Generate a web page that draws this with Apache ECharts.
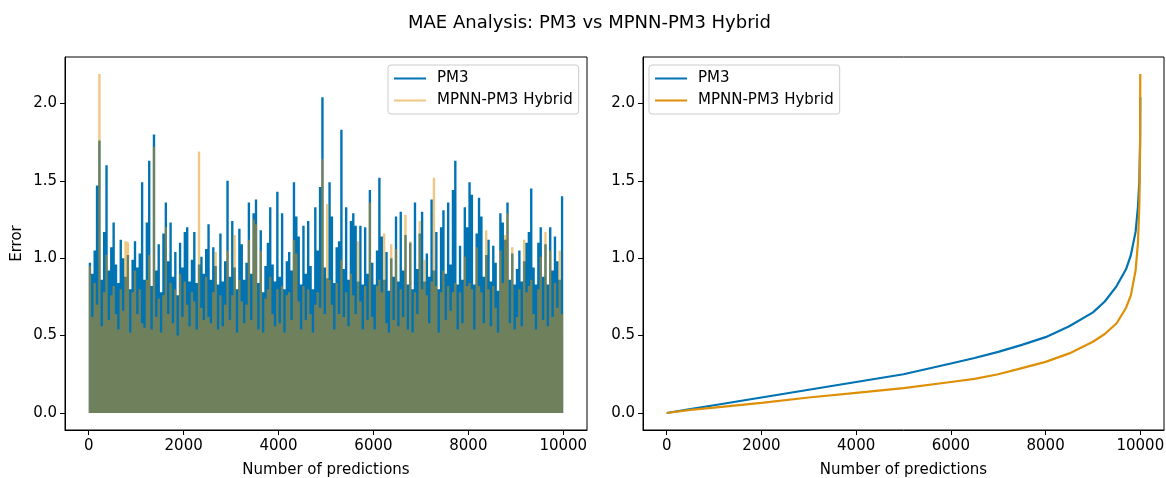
<!DOCTYPE html>
<html><head><meta charset="utf-8">
<script src="https://cdn.jsdelivr.net/npm/echarts@6/dist/echarts.min.js"></script>
<style>html,body{margin:0;padding:0;background:#fff}#c{width:1166px;height:478px}</style>
</head><body><div id="c"></div>
<script>
const TITLE = 'MAE Analysis: PM3 vs MPNN-PM3 Hybrid';
const NAME_PM3 = 'PM3';
const NAME_HYB = 'MPNN-PM3 Hybrid';
const X_LABEL = 'Number of predictions';
const Y_LABEL = 'Error';
const X_TICKS = [0, 2000, 4000, 6000, 8000, 10000];
const Y_TICKS = [0, 0.5, 1.0, 1.5, 2.0];

// Left panel: per 50-prediction bin, the highest error reached
const BIN_SIZE = 50;
const LAST_INDEX = 9999;
const PM3_BIN_PEAKS = [
  0.97, 0.90, 1.05, 1.47, 1.76, 0.86, 1.17, 1.60, 0.92, 1.07,
  1.23, 0.96, 0.84, 1.12, 1.00, 0.88, 1.02, 0.80, 0.99, 1.11,
  0.94, 1.03, 1.49, 0.86, 1.23, 1.63, 0.82, 1.80, 0.92, 1.09,
  0.78, 1.16, 1.36, 0.98, 1.23, 0.88, 1.04, 0.76, 1.10, 0.94,
  1.17, 1.20, 0.85, 0.99, 1.17, 0.84, 0.96, 1.01, 0.90, 1.06,
  1.22, 0.86, 1.07, 0.95, 0.83, 1.16, 0.85, 0.98, 1.50, 0.88,
  1.24, 0.94, 0.80, 1.19, 1.09, 0.86, 0.97, 1.36, 0.90, 1.29,
  1.38, 0.84, 1.18, 0.78, 0.95, 1.10, 1.33, 0.96, 0.85, 1.43,
  0.88, 1.29, 0.80, 0.98, 1.04, 0.92, 1.49, 1.27, 1.14, 0.83,
  1.21, 0.90, 1.24, 0.95, 0.80, 1.33, 1.05, 1.46, 2.04, 0.94,
  0.87, 1.49, 1.27, 0.84, 1.07, 1.11, 1.83, 0.93, 1.33, 0.86,
  1.24, 1.29, 1.21, 0.85, 1.21, 0.83, 1.20, 0.90, 1.44, 0.97,
  0.83, 1.05, 1.52, 1.14, 0.86, 1.04, 0.79, 1.00, 0.88, 1.27,
  0.85, 1.30, 0.92, 1.15, 0.83, 1.10, 0.80, 1.36, 0.93, 1.16,
  1.30, 0.85, 1.03, 0.88, 1.38, 0.92, 1.17, 0.80, 1.20, 1.31,
  0.90, 1.36, 0.96, 1.44, 1.63, 0.83, 1.08, 0.86, 1.33, 1.20,
  1.49, 1.41, 0.83, 1.16, 1.39, 1.27, 0.88, 1.02, 1.12, 0.85,
  1.08, 0.97, 0.79, 1.29, 1.23, 1.12, 1.36, 0.86, 1.03, 0.83,
  0.93, 1.05, 0.85, 0.98, 1.10, 1.17, 1.45, 0.94, 0.83, 1.10,
  1.20, 0.88, 1.09, 0.83, 1.20, 0.92, 1.14, 0.98, 0.86, 1.40
];
const HYB_BIN_PEAKS = [
  0.95, 0.62, 0.84, 0.70, 2.19, 0.56, 0.78, 1.02, 0.60, 0.76,
  0.82, 0.64, 0.54, 0.80, 0.66, 1.11, 1.10, 0.52, 0.78, 0.92,
  0.64, 0.80, 0.58, 0.55, 0.86, 1.02, 0.54, 1.72, 0.62, 0.74,
  0.52, 0.76, 1.20, 0.64, 0.84, 0.58, 0.80, 0.50, 0.90, 0.62,
  0.85, 0.70, 0.56, 0.78, 0.72, 0.54, 1.69, 0.68, 0.60, 0.88,
  0.62, 0.58, 0.78, 1.04, 0.54, 0.76, 0.56, 0.70, 1.05, 0.60,
  0.76, 1.15, 0.52, 0.86, 0.72, 0.58, 0.70, 1.12, 0.60, 1.25,
  1.22, 0.54, 1.05, 0.52, 0.74, 0.80, 0.88, 0.64, 0.56, 0.80,
  0.58, 0.82, 0.52, 0.76, 0.78, 0.60, 1.12, 1.03, 0.72, 0.54,
  0.82, 0.60, 0.80, 0.64, 0.52, 0.70, 0.78, 0.68, 1.64, 0.64,
  1.35, 0.86, 0.70, 0.54, 0.84, 0.64, 0.99, 0.62, 0.78, 0.56,
  0.90, 0.76, 0.64, 1.11, 0.72, 0.54, 0.82, 0.60, 1.36, 0.62,
  0.54, 0.82, 0.86, 0.78, 1.16, 0.58, 0.52, 1.09, 0.60, 1.06,
  0.56, 0.80, 0.62, 1.28, 0.54, 1.11, 0.52, 0.78, 0.64, 1.24,
  0.80, 0.99, 0.76, 0.58, 0.85, 1.52, 0.82, 0.52, 0.78, 0.92,
  0.60, 0.82, 0.66, 0.78, 0.84, 0.54, 0.78, 0.58, 1.01, 0.82,
  0.84, 0.80, 0.54, 1.07, 0.82, 0.78, 0.58, 1.18, 0.80, 0.56,
  0.82, 0.68, 0.52, 1.05, 0.84, 1.15, 1.29, 0.58, 1.07, 0.54,
  0.62, 0.80, 0.56, 1.12, 0.78, 0.82, 0.86, 0.64, 0.54, 0.80,
  1.01, 0.60, 1.17, 0.56, 1.05, 0.62, 0.84, 0.68, 1.05, 0.64
];

// Right panel: sorted errors
const SORTED_X   = [0, 500, 1000, 2000, 3000, 4000, 5000, 6000, 6500, 7000, 7500, 8000, 8500, 9000, 9250, 9500, 9700, 9800, 9900, 9950, 9980, 9995, 9999];
const PM3_SORTED = [0.0, 0.025, 0.05, 0.10, 0.15, 0.20, 0.25, 0.32, 0.355, 0.395, 0.44, 0.49, 0.56, 0.65, 0.72, 0.82, 0.93, 1.02, 1.17, 1.33, 1.50, 1.75, 2.04];
const HYB_SORTED = [0.0, 0.02, 0.035, 0.065, 0.10, 0.13, 0.16, 0.20, 0.22, 0.25, 0.29, 0.33, 0.385, 0.46, 0.51, 0.58, 0.68, 0.76, 0.92, 1.10, 1.35, 1.70, 2.19];

const C_BLUE = '#0173B2';
const C_ORANGE = '#DE8F05';
const C_ORANGE_HALF = '#EEC782';
const FONT = 'DejaVu Sans';

// each bin is filled from 0 up to its peak: step outline at bin edges
function binSteps(peaks) {
  const d = peaks.map((p, i) => [i * BIN_SIZE, p]);
  d.push([LAST_INDEX, peaks[peaks.length - 1]]);
  return d;
}
function pairs(xs, ys) { return xs.map((x, i) => [x, ys[i]]); }

function xAxis(gi) {
  return {
    type: 'value', gridIndex: gi, min: -500, max: 10500,
    name: X_LABEL, nameLocation: 'middle', nameGap: 33,
    nameTextStyle: { fontFamily: FONT, fontSize: 15, color: '#000' },
    axisLine: { show: true, onZero: false, lineStyle: { color: '#000', width: 1 } },
    axisTick: { show: true, inside: false, length: 5, lineStyle: { color: '#000', width: 1 }, customValues: X_TICKS },
    axisLabel: { customValues: X_TICKS, margin: 9, fontFamily: FONT, fontSize: 15, color: '#000',
      formatter: v => String(v) },
    splitLine: { show: false }
  };
}
function yAxis(gi, withName) {
  return {
    type: 'value', gridIndex: gi, min: -0.11, max: 2.30,
    name: withName ? Y_LABEL : '', nameLocation: 'middle', nameGap: 40,
    nameTextStyle: { fontFamily: FONT, fontSize: 15, color: '#000' },
    axisLine: { show: true, onZero: false, lineStyle: { color: '#000', width: 1 } },
    axisTick: { show: true, inside: false, length: 5, lineStyle: { color: '#000', width: 1 }, customValues: Y_TICKS },
    axisLabel: { customValues: Y_TICKS, margin: 8, fontFamily: FONT, fontSize: 15, color: '#000',
      formatter: v => v.toFixed(1) },
    splitLine: { show: false }
  };
}
function legend(left, hybColor) {
  return {
    left: left, top: 65, orient: 'vertical',
    backgroundColor: 'rgba(255,255,255,0.8)', borderColor: '#cccccc', borderWidth: 1, borderRadius: 3,
    padding: [5, 6, 5, 6], itemGap: 5, itemWidth: 32, itemHeight: 2,
    textStyle: { fontFamily: FONT, fontSize: 15, color: '#000', padding: [0, 0, 0, 6], lineHeight: 17 },
    selectedMode: false,
    data: [
      { name: NAME_PM3, icon: 'rect', itemStyle: { color: C_BLUE } },
      { name: NAME_HYB, icon: 'rect', itemStyle: { color: hybColor } }
    ]
  };
}

const chart = echarts.init(document.getElementById('c'), null, { renderer: 'canvas' });
chart.setOption({
  animation: false,
  backgroundColor: '#fff',
  title: { text: TITLE, left: 408, top: 14, padding: 0,
    textStyle: { fontFamily: FONT, fontSize: 18, fontWeight: 'normal', color: '#000' } },
  grid: [
    { left: 65, top: 57, width: 522, height: 373, show: true, borderColor: '#000', borderWidth: 1,
      backgroundColor: 'transparent', outerBoundsMode: 'none', containLabel: false },
    { left: 643, top: 57, width: 521, height: 373, show: true, borderColor: '#000', borderWidth: 1,
      backgroundColor: 'transparent', outerBoundsMode: 'none', containLabel: false }
  ],
  xAxis: [xAxis(0), xAxis(1)],
  yAxis: [yAxis(0, true), yAxis(1, false)],
  legend: [legend(388, C_ORANGE_HALF), legend(649, C_ORANGE)],
  series: [
    { name: NAME_PM3, type: 'line', step: 'end', xAxisIndex: 0, yAxisIndex: 0, data: binSteps(PM3_BIN_PEAKS),
      symbol: 'none', silent: true, lineStyle: { color: C_BLUE, width: 0 },
      areaStyle: { color: C_BLUE, opacity: 1, origin: 0 }, itemStyle: { color: C_BLUE } },
    { name: NAME_HYB, type: 'line', step: 'end', xAxisIndex: 0, yAxisIndex: 0, data: binSteps(HYB_BIN_PEAKS),
      symbol: 'none', silent: true, lineStyle: { color: C_ORANGE, width: 0 },
      areaStyle: { color: C_ORANGE, opacity: 0.5, origin: 0 }, itemStyle: { color: C_ORANGE_HALF } },
    { name: NAME_PM3, type: 'line', xAxisIndex: 1, yAxisIndex: 1, data: pairs(SORTED_X, PM3_SORTED),
      symbol: 'none', silent: true, lineStyle: { color: C_BLUE, width: 2.2 }, itemStyle: { color: C_BLUE } },
    { name: NAME_HYB, type: 'line', xAxisIndex: 1, yAxisIndex: 1, data: pairs(SORTED_X, HYB_SORTED),
      symbol: 'none', silent: true, lineStyle: { color: C_ORANGE, width: 2.2 }, itemStyle: { color: C_ORANGE } }
  ]
});
</script></body></html>
